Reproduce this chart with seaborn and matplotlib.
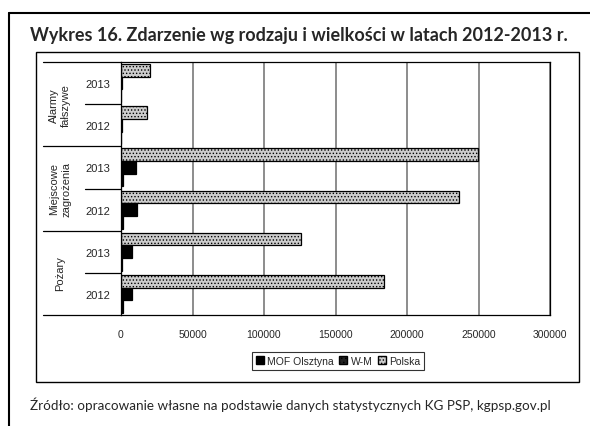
import matplotlib
matplotlib.use('Agg')
import matplotlib.pyplot as plt
from matplotlib.patches import Rectangle, Patch
from matplotlib.lines import Line2D
import pandas as pd
import seaborn as sns

groups = ['Alarmy\nfałszywe', 'Miejscowe\nzagrożenia', 'Pożary']
years = ['2013', '2012']
series = ['MOF Olsztyna', 'W-M', 'Polska']

# values per slot, top to bottom: Alarmy 2013, Alarmy 2012, MZ 2013, MZ 2012, Pożary 2013, Pożary 2012
mof = [150, 140, 1500, 1600, 1000, 1100]
wm = [600, 550, 10500, 11200, 7400, 7500]
polska = [20300, 18200, 249500, 236500, 126000, 184000]

slots = [g + ' ' + y for g in groups for y in years]
df = pd.DataFrame({
    'slot': slots * 3,
    'seria': ['MOF Olsztyna'] * 6 + ['W-M'] * 6 + ['Polska'] * 6,
    'wartosc': mof + wm + polska,
})

sns.set_style('white')
plt.rcParams['font.family'] = ['Liberation Sans', 'DejaVu Sans']
plt.rcParams['hatch.linewidth'] = 0.6

W, H = 590, 427
fig = plt.figure(figsize=(W / 100, H / 100), dpi=100)
ax = fig.add_axes([121 / W, 1 - 316 / H, 429 / W, 253 / H])

palette = {'Polska': '#cccccc', 'W-M': '#000000', 'MOF Olsztyna': '#000000'}
sns.barplot(data=df, y='slot', x='wartosc', hue='seria', order=slots,
            hue_order=['Polska', 'W-M', 'MOF Olsztyna'], palette=palette,
            orient='h', width=0.9, saturation=1, edgecolor='black',
            linewidth=0.9, legend=False, ax=ax)

# stipple the Polska bars
for bar in ax.containers[0]:
    bar.set_hatch('.....')

ax.set_xlim(0, 300000)
ax.set_xticks(range(0, 300001, 50000))
ax.set_xticklabels([str(v) for v in range(0, 300001, 50000)], fontsize=7.5)
ax.set_ylim(5.5, -0.5)
ax.set_yticks(range(6))
ax.set_yticklabels(years * 3, fontsize=8)
ax.tick_params(axis='y', length=0, pad=8)
ax.tick_params(axis='x', direction='inout', length=4, width=0.8, pad=8)
ax.set_xlabel('')
ax.set_ylabel('')
ax.grid(axis='x', color='#6e6e6e', linewidth=1.1)
ax.set_axisbelow(True)
for s in ax.spines.values():
    s.set_color('black')
    s.set_linewidth(0.9)

trans = ax.get_yaxis_transform()
for yb in [-0.5, 1.5, 3.5, 5.5]:
    ax.add_line(Line2D([-0.182, 0], [yb, yb], transform=trans, color='black',
                       linewidth=0.9, clip_on=False))
for yb in [0.5, 2.5, 4.5]:
    ax.add_line(Line2D([-0.084, 0], [yb, yb], transform=trans, color='black',
                       linewidth=0.9, clip_on=False))
for i, g in enumerate(groups):
    ax.text(-0.142, 2 * i + 0.5, g, transform=trans, rotation=90, ha='center',
            va='center', fontsize=8, linespacing=1.3)

# legend in reverse series order
handles = [Patch(facecolor='black', edgecolor='black'),
           Patch(facecolor='#222222', edgecolor='black', hatch='....'),
           Patch(facecolor='#cccccc', edgecolor='black', hatch='.....')]
leg = fig.legend(handles, series, loc='center', bbox_to_anchor=(338 / W, 1 - 362 / H),
                 ncol=3, fontsize=7.5, frameon=True, fancybox=False, handlelength=0.8,
                 handleheight=0.8, handletextpad=0.3, columnspacing=0.5,
                 borderpad=0.35, borderaxespad=0)
leg.get_frame().set_edgecolor('black')
leg.get_frame().set_linewidth(0.8)

# frames
fig.add_artist(Rectangle((36 / W, 1 - 383 / H), 543 / W, 330 / H, transform=fig.transFigure,
                         fill=False, edgecolor='black', linewidth=1))
fig.add_artist(Line2D([9 / W, 1], [1 - 14 / H, 1 - 14 / H], transform=fig.transFigure,
                      color='black', linewidth=1.5))
fig.add_artist(Line2D([9 / W, 9 / W], [1 - 14 / H, 0], transform=fig.transFigure,
                      color='black', linewidth=1.5))

fig.text(30 / W, 1 - 35 / H, 'Wykres 16. Zdarzenie wg rodzaju i wielkości w latach 2012-2013 r.',
         ha='left', va='center', fontsize=13, fontweight='bold', family=['Lato', 'DejaVu Sans'])
fig.text(30 / W, 1 - 405 / H,
         'Źródło: opracowanie własne na podstawie danych statystycznych KG PSP, kgpsp.gov.pl',
         ha='left', va='center', fontsize=9.7, family=['Lato', 'DejaVu Sans'])

fig.savefig('out.png', dpi=100)
